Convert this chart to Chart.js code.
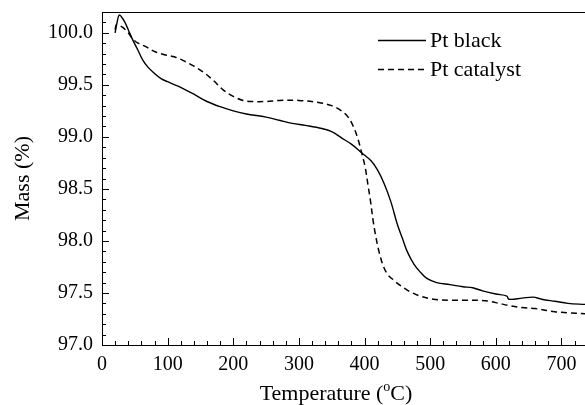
<!DOCTYPE html>
<html>
<head>
<meta charset="utf-8">
<script src="https://cdn.jsdelivr.net/npm/chart.js@4.4.1/dist/chart.umd.min.js"></script>
<style>
  html, body { margin: 0; padding: 0; background: #fff; }
  canvas { display: block; }
</style>
</head>
<body>
<canvas id="tga" width="585" height="405"></canvas>
<script>
// ── data ──
const seriesLabels = ["Pt black", "Pt catalyst"];

const blackTemp = [20, 23, 26, 30, 35, 40, 47, 55, 62, 70, 80, 90, 100, 115, 125, 140, 160, 180, 200, 220, 250, 270, 290, 310, 335, 350, 365, 380, 395, 410, 420, 430, 440, 450, 458, 465, 475, 485, 495, 510, 530, 550, 565, 580, 600, 617, 620, 640, 657, 670, 690, 710, 736];
const blackMass = [100.00, 100.10, 100.17, 100.15, 100.10, 100.03, 99.93, 99.83, 99.74, 99.67, 99.61, 99.56, 99.53, 99.49, 99.46, 99.41, 99.34, 99.29, 99.25, 99.22, 99.19, 99.16, 99.13, 99.11, 99.08, 99.05, 98.99, 98.93, 98.85, 98.77, 98.68, 98.55, 98.38, 98.16, 98.02, 97.90, 97.78, 97.70, 97.64, 97.60, 97.58, 97.56, 97.55, 97.52, 97.49, 97.47, 97.44, 97.45, 97.46, 97.44, 97.42, 97.40, 97.39];

const catTemp = [20, 22, 27, 32, 40, 47, 55, 66, 80, 95, 110, 125, 140, 155, 170, 185, 200, 215, 230, 250, 270, 300, 330, 350, 365, 375, 383, 390, 396, 401, 405, 409, 413, 417, 422, 428, 435, 445, 455, 470, 485, 505, 530, 555, 575, 590, 605, 620, 640, 660, 690, 710, 736];
const catMass = [100.03, 100.08, 100.07, 100.05, 100.00, 99.94, 99.90, 99.87, 99.82, 99.79, 99.77, 99.73, 99.68, 99.62, 99.54, 99.45, 99.39, 99.35, 99.34, 99.34, 99.35, 99.35, 99.33, 99.30, 99.25, 99.19, 99.10, 98.98, 98.84, 98.71, 98.55, 98.39, 98.20, 98.05, 97.90, 97.77, 97.68, 97.62, 97.57, 97.51, 97.47, 97.44, 97.43, 97.43, 97.43, 97.42, 97.40, 97.38, 97.36, 97.35, 97.32, 97.31, 97.30];

const xMin = 0, xMax = 736, xStep = 100, xMinor = 20;
const yMin = 97.0, yMax = 100.2, yStep = 0.5, yMinor = 0.1;

const FONT = "'Liberation Serif', 'Times New Roman', serif";
const toPoints = (xs, ys) => xs.map((x, i) => ({ x: x, y: ys[i] }));

// ── frame, inward ticks, axis titles, legend ──
const decorPlugin = {
    id: "decor",
    afterDraw(chart) {
        const ctx = chart.ctx;
        const area = chart.chartArea;
        const sx = chart.scales.x, sy = chart.scales.y;
        ctx.save();
        ctx.setLineDash([]);
        ctx.fillStyle = "#000";

        // top border
        ctx.fillRect(Math.round(area.left), Math.round(area.top), Math.round(area.right - area.left), 1);

        // x ticks (pointing up into the plot)
        const bottom = Math.round(area.bottom);
        for (let k = 0; xMin + k * xMinor <= xMax; k++) {
            const px = Math.round(sx.getPixelForValue(xMin + k * xMinor));
            const len = (k % 5 === 0) ? 7 : 4;
            ctx.fillRect(px, bottom - len, 1, len);
        }
        // y ticks (pointing right into the plot)
        const left = Math.round(area.left);
        for (let k = 0; yMin + k * yMinor <= yMax + 1e-9; k++) {
            const py = Math.round(sy.getPixelForValue(yMin + k * yMinor));
            const len = (k % 5 === 0) ? 7 : 4;
            ctx.fillRect(left, py, len, 1);
        }

        // axis titles
        ctx.textBaseline = "alphabetic";
        const big = "22px " + FONT, small = "14px " + FONT;
        const p1 = "Temperature (", p2 = "o", p3 = "C)";
        ctx.font = big;
        const w1 = ctx.measureText(p1).width, w3 = ctx.measureText(p3).width;
        ctx.font = small;
        const w2 = ctx.measureText(p2).width;
        const tx = 336 - (w1 + w2 + w3) / 2;
        const ty = 400;
        ctx.textAlign = "left";
        ctx.font = big;
        ctx.fillText(p1, tx, ty);
        ctx.font = small;
        ctx.fillText(p2, tx + w1, ty - 9);
        ctx.font = big;
        ctx.fillText(p3, tx + w1 + w2, ty);

        ctx.save();
        ctx.translate(29, (area.top + area.bottom) / 2);
        ctx.rotate(-Math.PI / 2);
        ctx.textAlign = "center";
        ctx.font = big;
        ctx.fillText("Mass (%)", 0, 0);
        ctx.restore();

        // legend
        const rows = [40, 69];
        ctx.strokeStyle = "#000";
        chart.data.datasets.forEach((ds, i) => {
            const ly = rows[i];
            ctx.beginPath();
            ctx.lineWidth = 1.3;
            ctx.setLineDash(ds.borderDash || []);
            ctx.moveTo(378, ly + 0.5);
            ctx.lineTo(426, ly + 0.5);
            ctx.stroke();
            ctx.setLineDash([]);
            ctx.font = big;
            ctx.textAlign = "left";
            ctx.textBaseline = "middle";
            ctx.fillText(ds.label, 430, ly + 1);
        });
        ctx.restore();
    }
};

new Chart(document.getElementById("tga").getContext("2d"), {
    type: "line",
    data: {
        datasets: [
            {
                label: seriesLabels[0],
                data: toPoints(blackTemp, blackMass),
                borderColor: "#000",
                borderWidth: 1.4,
                pointRadius: 0,
                tension: 0.35,
                fill: false
            },
            {
                label: seriesLabels[1],
                data: toPoints(catTemp, catMass),
                borderColor: "#000",
                borderWidth: 1.5,
                borderDash: [6, 4],
                pointRadius: 0,
                tension: 0.35,
                fill: false
            }
        ]
    },
    options: {
        responsive: false,
        animation: false,
        devicePixelRatio: 1,
        layout: { padding: { top: 12, right: -3, left: 0, bottom: 0 } },
        plugins: {
            legend: { display: false },
            tooltip: { enabled: false }
        },
        scales: {
            x: {
                type: "linear",
                min: xMin,
                max: xMax,
                grid: { display: false, drawTicks: false },
                border: { display: true, color: "#000", width: 1 },
                ticks: {
                    stepSize: xStep,
                    includeBounds: false,
                    maxRotation: 0,
                    padding: 8,
                    color: "#000",
                    font: { family: FONT, size: 20 }
                },
                afterFit: (s) => { s.height = 60; s.paddingLeft = 0; s.paddingRight = 0; }
            },
            y: {
                type: "linear",
                min: yMin,
                max: yMax,
                grid: { display: false, drawTicks: false },
                border: { display: true, color: "#000", width: 1 },
                ticks: {
                    stepSize: yStep,
                    includeBounds: false,
                    padding: 9,
                    color: "#000",
                    font: { family: FONT, size: 20 },
                    callback: (v) => Number(v).toFixed(1)
                },
                afterFit: (s) => { s.width = 102; s.paddingTop = 0; s.paddingBottom = 0; }
            }
        }
    },
    plugins: [decorPlugin]
});
</script>
</body>
</html>
